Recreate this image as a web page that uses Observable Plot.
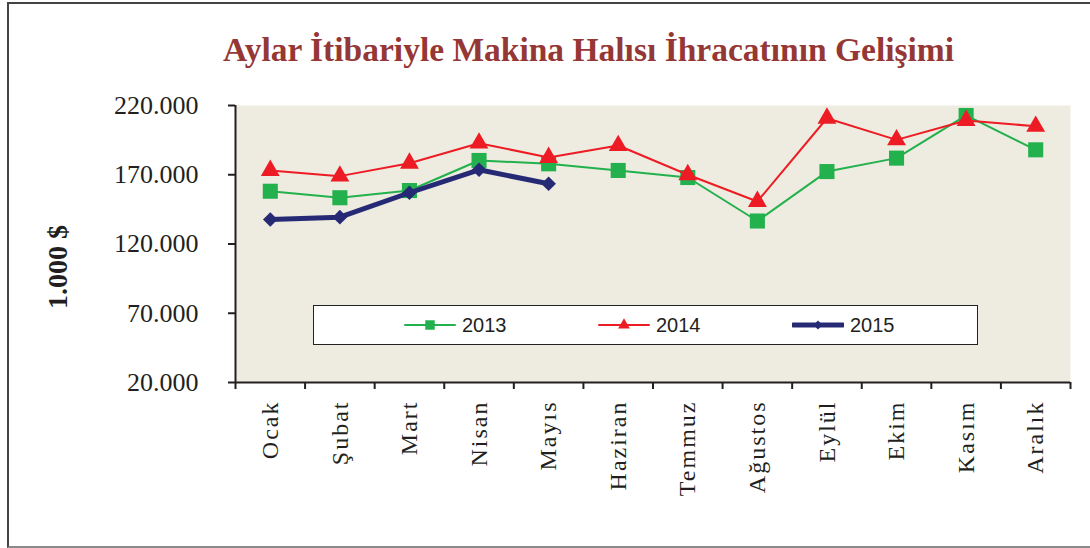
<!DOCTYPE html>
<html><head><meta charset="utf-8">
<script src="https://cdn.jsdelivr.net/npm/d3@7"></script>
<script src="https://cdn.jsdelivr.net/npm/@observablehq/plot@0.6"></script>
<style>
body{margin:0;background:#fff;}
#wrap{position:relative;width:1090px;height:548px;overflow:hidden;background:#fff;}
#frame{position:absolute;left:7px;top:2px;width:1100px;height:542px;border-left:2px solid #444;border-top:2px solid #444;border-bottom:2px solid #8a8a8a;}
#title{position:absolute;left:0;width:1177px;top:33px;text-align:center;font-family:"Liberation Serif",serif;font-weight:bold;font-size:33.5px;line-height:1;color:#953735;white-space:nowrap;}
#ylab{position:absolute;left:58px;top:267px;transform:translate(-50%,-50%) rotate(-90deg);font-family:"Liberation Serif",serif;font-weight:bold;font-size:28px;color:#231f20;white-space:nowrap;}
#legend{position:absolute;left:313px;top:305px;width:663px;height:38px;border:1.5px solid #222;background:#fff;font-family:"Liberation Sans",Arial,sans-serif;font-size:20px;color:#231f20;}
.item{position:absolute;top:0;height:38px;display:flex;align-items:center;}
.item svg{margin-right:6px;}
#chart{position:absolute;left:0;top:0;}
#chart svg [aria-label="x-axis tick label"] text{letter-spacing:2px;}
</style></head><body>
<div id="wrap">
<div id="frame"></div>
<div id="chart"></div>
<div id="title">Aylar İtibariyle Makina Halısı İhracatının Gelişimi</div>
<div id="ylab">1.000 $</div>
<div id="legend"></div>
</div>
<script>
const months = ["Ocak","Şubat","Mart","Nisan","Mayıs","Haziran","Temmuz","Ağustos","Eylül","Ekim","Kasım","Aralık"];
const v2013 = [158100,153400,158600,180300,177900,173100,168000,136600,172300,182000,212800,188000];
const v2014 = [173100,169000,178300,192800,182500,191100,170000,150700,210800,195200,209200,205000];
const v2015 = [137700,139400,157000,173600,163500];
const yTicks = [20000,70000,120000,170000,220000];
const seriesNames = ["2013","2014","2015"];
const colors = {"2013":"#22b14c","2014":"#ed1c24","2015":"#262a74"};

const toRows = (vals, s) => vals.map((v,i)=>({i, month: months[i], v, s}));
const d13 = toRows(v2013,"2013"), d14 = toRows(v2014,"2014"), d15 = toRows(v2015,"2015");
const fmt = d => d3.format(",")(d).replace(/,/g,".");

const chart = Plot.plot({
  width:1090, height:548,
  marginLeft:235, marginRight:20, marginTop:105, marginBottom:166,
  style:{fontFamily:"Liberation Serif, serif", color:"#231f20", background:"transparent"},
  x:{type:"linear", domain:[-0.5, 11.5]},
  y:{domain:[20000,220000]},
  marks:[
    Plot.frame({fill:"#eeebe0", stroke:null}),
    Plot.axisY({ticks:yTicks, tickFormat:fmt, tickSize:7, tickPadding:30, fontSize:26, strokeWidth:2, label:null}),
    Plot.axisX({ticks:d3.range(13).map(k=>k-0.5), tickFormat:()=>"", tickSize:7, strokeWidth:2, label:null}),
    Plot.axisX({ticks:d3.range(12), tickFormat:i=>months[i], tickSize:0, tickPadding:18, tickRotate:-90, fontSize:24, label:null}),
    Plot.ruleX([-0.5], {stroke:"#231f20", strokeWidth:2}),
    Plot.ruleY([20000], {stroke:"#231f20", strokeWidth:2}),
    Plot.line(d13, {x:"i", y:"v", stroke:colors["2013"], strokeWidth:2}),
    Plot.dot(d13, {x:"i", y:"v", symbol:"square", r:8.5, fill:colors["2013"], stroke:null}),
    Plot.line(d14, {x:"i", y:"v", stroke:colors["2014"], strokeWidth:2}),
    Plot.dot(d14, {x:"i", y:"v", symbol:"triangle", r:7, fill:colors["2014"], stroke:null}),
    Plot.line(d15, {x:"i", y:"v", stroke:colors["2015"], strokeWidth:5}),
    Plot.dot(d15, {x:"i", y:"v", symbol:"diamond2", r:6.6, fill:colors["2015"], stroke:null})
  ]
});
document.getElementById("chart").appendChild(chart);

// legend
const legend = document.getElementById("legend");
const legendSpec = [
  {s:"2013", left:90, sym:"square", w:2, size:90},
  {s:"2014", left:284, sym:"triangle", w:2, size:60},
  {s:"2015", left:478, sym:"diamond2", w:5, size:50}
];
const symMap = {square:d3.symbolSquare, triangle:d3.symbolTriangle, diamond2:d3.symbolDiamond2};
legendSpec.forEach(o=>{
  const it = document.createElement("div");
  it.className="item"; it.style.left=o.left+"px";
  const ns="http://www.w3.org/2000/svg";
  const svg=document.createElementNS(ns,"svg");
  svg.setAttribute("width",52); svg.setAttribute("height",20);
  const ln=document.createElementNS(ns,"line");
  ln.setAttribute("x1",1);ln.setAttribute("x2",51);ln.setAttribute("y1",10);ln.setAttribute("y2",10);
  ln.setAttribute("stroke",colors[o.s]);ln.setAttribute("stroke-width",o.w);ln.setAttribute("stroke-linecap","round");
  svg.appendChild(ln);
  const p=document.createElementNS(ns,"path");
  p.setAttribute("d",d3.symbol(symMap[o.sym],o.size)());
  p.setAttribute("transform","translate(26,10)");
  p.setAttribute("fill",colors[o.s]);
  svg.appendChild(p);
  it.appendChild(svg);
  const t=document.createElement("span"); t.textContent=o.s; it.appendChild(t);
  legend.appendChild(it);
});
</script>
</body></html>
